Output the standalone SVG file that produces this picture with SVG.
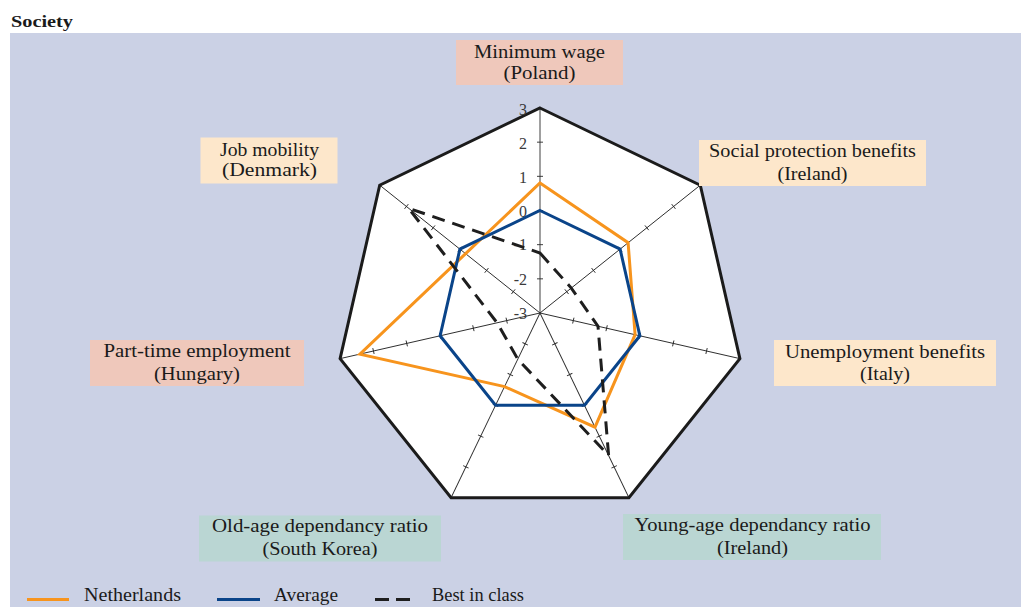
<svg xmlns="http://www.w3.org/2000/svg" xmlns:xlink="http://www.w3.org/1999/xlink" width="1023" height="607" viewBox="0 0 1023 607">
  <style>
    .lbl { font-family: "Liberation Serif", "Times New Roman", serif; font-size: 18px; fill: #1a1a1a; text-anchor: middle; }
    .num { font-family: "Liberation Serif", "Times New Roman", serif; font-size: 16px; fill: #3a3a3a; text-anchor: end; }
    .leg { font-family: "Liberation Serif", "Times New Roman", serif; font-size: 18px; fill: #1a1a1a; }
    .salmon { fill: #EFC8BB; }
    .peach { fill: #FDE7CB; }
    .teal { fill: #BAD6D3; }
    .axis { stroke: #2a2a2a; stroke-width: 0.9; fill: none; }
    .nl { fill: none; stroke: #F7941D; stroke-width: 3; stroke-linejoin: miter; }
    .avg { fill: none; stroke: #0A4489; stroke-width: 3; stroke-linejoin: miter; }
    .best { fill: none; stroke: #1e1e1e; stroke-width: 3; stroke-dasharray: 13 8; }
  </style>
  <defs>
    <!-- one spoke of the radar: from the centre to the rim, with ticks at each unit -->
    <g id="axis" class="axis">
      <line x1="540" y1="313" x2="540" y2="108"/>
      <path d="M537 278.83h6M537 244.67h6M537 210.5h6M537 176.33h6M537 142.17h6"/>
    </g>
  </defs>

  <rect x="0" y="0" width="1023" height="607" fill="#ffffff"/>
  <text x="11" y="27" font-family="Liberation Serif, Times New Roman, serif" font-size="17" font-weight="bold" fill="#1a1a1a" textLength="62" lengthAdjust="spacingAndGlyphs">Society</text>
  <rect x="10" y="33" width="1011" height="574" fill="#CBD1E5"/>

  <!-- radar frame -->
  <polygon points="540,108 700.3,185.2 739.9,358.6 628.9,497.7 451.1,497.7 340.1,358.6 379.7,185.2" fill="#ffffff"/>
  <g id="spokes">
    <use xlink:href="#axis"/>
    <use xlink:href="#axis" transform="rotate(51.4286 540 313)"/>
    <use xlink:href="#axis" transform="rotate(102.857 540 313)"/>
    <use xlink:href="#axis" transform="rotate(154.286 540 313)"/>
    <use xlink:href="#axis" transform="rotate(205.714 540 313)"/>
    <use xlink:href="#axis" transform="rotate(257.143 540 313)"/>
    <use xlink:href="#axis" transform="rotate(308.571 540 313)"/>
  </g>
  <polygon points="540,108 700.3,185.2 739.9,358.6 628.9,497.7 451.1,497.7 340.1,358.6 379.7,185.2" fill="none" stroke="#1b1b1b" stroke-width="3"/>

  <!-- scale -->
  <g id="scale">
    <text class="num" x="527" y="115">3</text>
    <text class="num" x="527" y="148.5">2</text>
    <text class="num" x="527" y="182.5">1</text>
    <text class="num" x="527" y="216.8">0</text>
    <text class="num" x="527" y="250">-1</text>
    <text class="num" x="527" y="285">-2</text>
    <text class="num" x="527" y="318.5">-3</text>
  </g>

  <!-- data series -->
  <g id="series">
    <polygon class="nl" points="540,183 628.1,242.7 635.1,334.7 595,427.2 504.6,386.6 359.9,354.1 465.6,253.6"/>
    <polygon class="avg" points="540,210.5 620.1,249.1 639.9,335.8 584.5,405.3 495.5,405.3 440.1,335.8 459.9,249.1"/>
    <polygon class="best" points="540,253 571.3,288.1 598,326.2 608.6,455.4 517.8,359.2 497.1,322.8 408.7,208.3"/>
  </g>

  <!-- category labels -->
  <g id="node-minimum-wage">
    <rect class="salmon" x="456" y="40" width="167" height="45"/>
    <text class="lbl" x="539.5" y="57.5" textLength="131" lengthAdjust="spacingAndGlyphs">Minimum wage</text>
    <text class="lbl" x="539.5" y="78.5" textLength="72" lengthAdjust="spacingAndGlyphs">(Poland)</text>
  </g>
  <g id="node-social-protection">
    <rect class="peach" x="699" y="140" width="227" height="46"/>
    <text class="lbl" x="812.5" y="157" textLength="207" lengthAdjust="spacingAndGlyphs">Social protection benefits</text>
    <text class="lbl" x="812.5" y="179.5" textLength="70" lengthAdjust="spacingAndGlyphs">(Ireland)</text>
  </g>
  <g id="node-unemployment">
    <rect class="peach" x="774" y="340" width="222" height="46"/>
    <text class="lbl" x="885" y="357.5" textLength="200" lengthAdjust="spacingAndGlyphs">Unemployment benefits</text>
    <text class="lbl" x="885" y="380" textLength="50" lengthAdjust="spacingAndGlyphs">(Italy)</text>
  </g>
  <g id="node-young-age">
    <rect class="teal" x="623" y="514" width="258" height="46"/>
    <text class="lbl" x="752.5" y="531" textLength="236" lengthAdjust="spacingAndGlyphs">Young-age dependancy ratio</text>
    <text class="lbl" x="752.5" y="553.5" textLength="71" lengthAdjust="spacingAndGlyphs">(Ireland)</text>
  </g>
  <g id="node-old-age">
    <rect class="teal" x="199" y="515.5" width="242" height="46"/>
    <text class="lbl" x="320" y="532" textLength="216" lengthAdjust="spacingAndGlyphs">Old-age dependancy ratio</text>
    <text class="lbl" x="320" y="554.5" textLength="115" lengthAdjust="spacingAndGlyphs">(South Korea)</text>
  </g>
  <g id="node-part-time">
    <rect class="salmon" x="90" y="340" width="214" height="46"/>
    <text class="lbl" x="197" y="357" textLength="187" lengthAdjust="spacingAndGlyphs">Part-time employment</text>
    <text class="lbl" x="197" y="380" textLength="86" lengthAdjust="spacingAndGlyphs">(Hungary)</text>
  </g>
  <g id="node-job-mobility">
    <rect class="peach" x="200.5" y="137.5" width="137" height="46"/>
    <text class="lbl" x="269.5" y="156" textLength="99" lengthAdjust="spacingAndGlyphs">Job mobility</text>
    <text class="lbl" x="269.5" y="176" textLength="95" lengthAdjust="spacingAndGlyphs">(Denmark)</text>
  </g>

  <!-- legend -->
  <g id="legend">
    <line x1="27" y1="599.5" x2="69" y2="599.5" stroke="#F7941D" stroke-width="3"/>
    <text class="leg" x="84" y="601" textLength="97" lengthAdjust="spacingAndGlyphs">Netherlands</text>
    <line x1="217" y1="599.5" x2="260" y2="599.5" stroke="#0A4489" stroke-width="3"/>
    <text class="leg" x="274" y="601" textLength="64" lengthAdjust="spacingAndGlyphs">Average</text>
    <line x1="375" y1="599.5" x2="410" y2="599.5" stroke="#1e1e1e" stroke-width="3" stroke-dasharray="14 7"/>
    <text class="leg" x="432" y="601" textLength="92" lengthAdjust="spacingAndGlyphs">Best in class</text>
  </g>
</svg>
